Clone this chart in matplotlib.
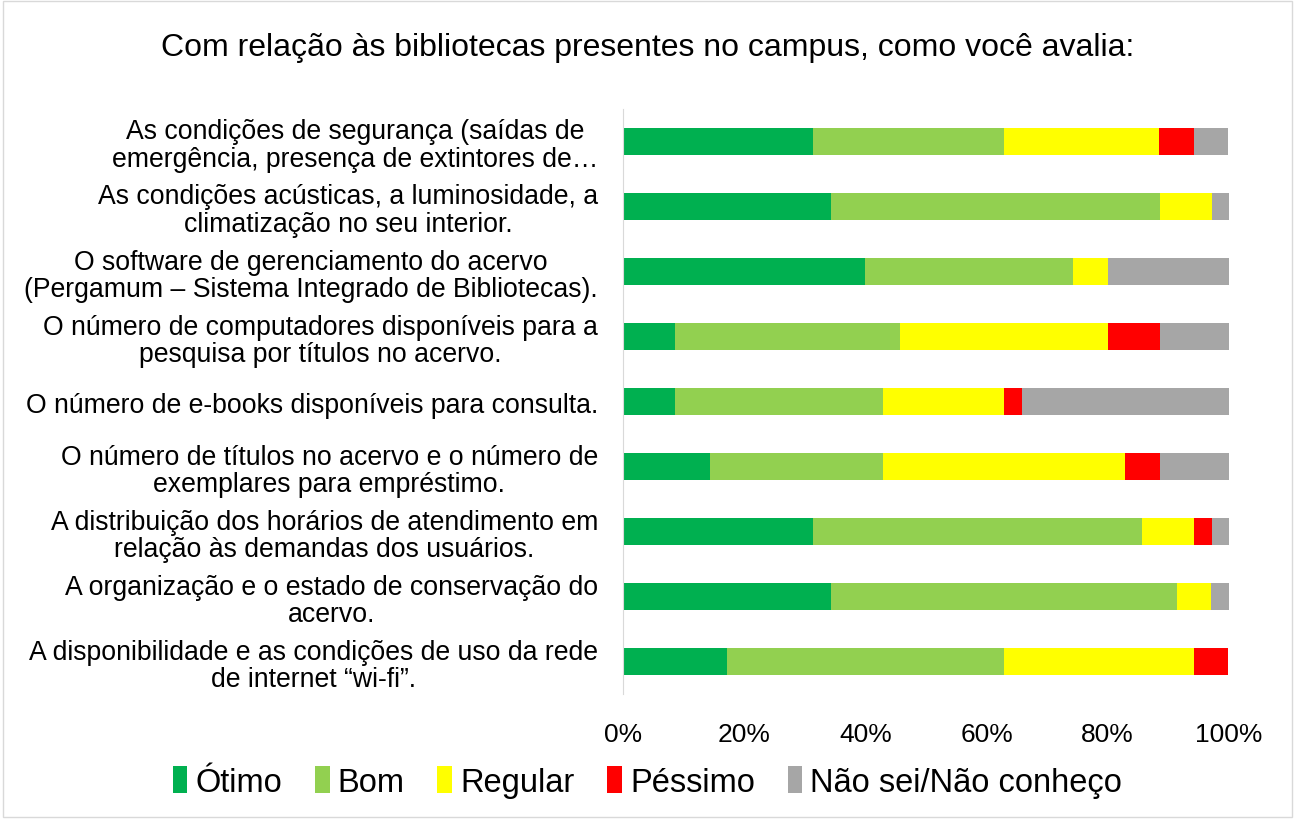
import matplotlib.pyplot as plt
import numpy as np
from matplotlib.patches import Patch, Rectangle

plt.rcParams['font.family'] = ['Liberation Sans', 'DejaVu Sans']

# perguntas, de cima para baixo
perguntas = [
    "As condições de segurança (saídas de\nemergência, presença de extintores de…",
    "As condições acústicas, a luminosidade, a\nclimatização no seu interior.",
    "O software de gerenciamento do acervo\n(Pergamum – Sistema Integrado de Bibliotecas).",
    "O número de computadores disponíveis para a\npesquisa por títulos no acervo.",
    "O número de e-books disponíveis para consulta.",
    "O número de títulos no acervo e o número de\nexemplares para empréstimo.",
    "A distribuição dos horários de atendimento em\nrelação às demandas dos usuários.",
    "A organização e o estado de conservação do\nacervo.",
    "A disponibilidade e as condições de uso da rede\nde internet “wi-fi”.",
]

categorias = ["Ótimo", "Bom", "Regular", "Péssimo", "Não sei/Não conheço"]
cores = ["#00B050", "#92D050", "#FFFF00", "#FF0000", "#A6A6A6"]

# percentuais (%) por categoria, mesma ordem das perguntas
otimo = [31.4, 34.3, 40.0, 8.6, 8.6, 14.3, 31.4, 34.3, 17.1]
bom = [31.4, 54.3, 34.3, 37.1, 34.3, 28.6, 54.3, 57.1, 45.7]
regular = [25.7, 8.6, 5.7, 34.3, 20.0, 40.0, 8.6, 5.7, 31.4]
pessimo = [5.7, 0.0, 0.0, 8.6, 2.9, 5.7, 2.9, 0.0, 5.7]
nao_sei = [5.7, 2.9, 20.0, 11.4, 34.3, 11.4, 2.9, 2.9, 0.0]

series = [otimo, bom, regular, pessimo, nao_sei]

fig = plt.figure(figsize=(12.95, 8.2), dpi=100)
ax = fig.add_axes([0.481, 0.152, 0.468, 0.714])

y = np.arange(len(perguntas))
left = np.zeros(len(perguntas))
for vals, cor, nome in zip(series, cores, categorias):
    v = np.array(vals)
    ax.barh(y, v, left=left, height=0.42, color=cor, label=nome)
    left += v

ax.set_ylim(len(perguntas) - 0.5, -0.5)
ax.set_xlim(0, 100)
ax.set_xticks([0, 20, 40, 60, 80, 100])
ax.set_xticklabels(["0%", "20%", "40%", "60%", "80%", "100%"], fontsize=19)
ax.set_yticks(y)
ax.set_yticklabels(perguntas, fontsize=19.2)
for lbl in ax.get_yticklabels():
    lbl.set_multialignment('center')
    lbl.set_linespacing(1.08)
ax.tick_params(axis='y', length=0, pad=18)
ax.tick_params(axis='x', length=0, pad=20)

for s in ['top', 'right', 'bottom']:
    ax.spines[s].set_visible(False)
ax.spines['left'].set_color('#D9D9D9')

fig.text(0.5, 1 - 48 / 820, "Com relação às bibliotecas presentes no campus, como você avalia:",
         ha='center', va='center', fontsize=23)

handles = [Patch(facecolor=c, label=n) for c, n in zip(cores, categorias)]
fig.legend(handles=handles, loc='center', bbox_to_anchor=(0.5, 1 - 783 / 820), ncol=5,
           frameon=False, fontsize=23.5, handlelength=0.45, handleheight=0.9,
           handletextpad=0.25, columnspacing=1.0)

fig.patches.append(Rectangle((0.002, 0.002), 0.996, 0.996, transform=fig.transFigure,
                             fill=False, edgecolor='#D9D9D9', linewidth=1))

plt.savefig('out.png', dpi=100)
